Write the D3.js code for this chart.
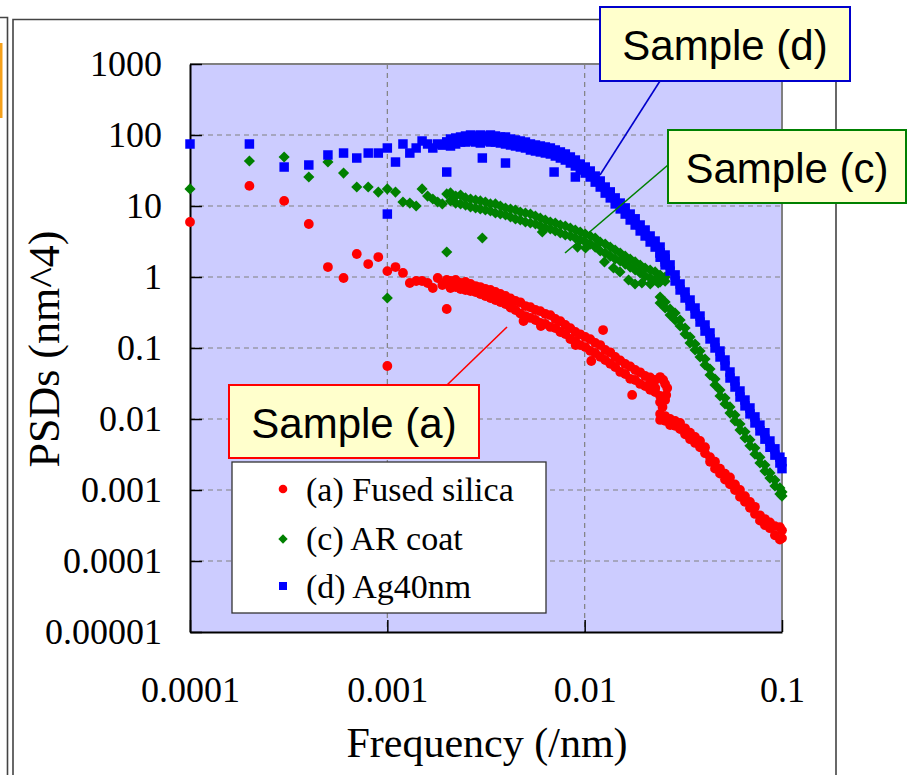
<!DOCTYPE html>
<html>
<head>
<meta charset="utf-8">
<script src="https://cdn.jsdelivr.net/npm/d3@7"></script>
<style>
  body { margin: 0; background: #fff; }
  svg { display: block; }
  .serif { font-family: "Liberation Serif", "Times New Roman", serif; }
  .sans { font-family: "Liberation Sans", Arial, sans-serif; }
</style>
</head>
<body>
<svg id="chart" width="908" height="775"></svg>
<script>
// axis ticks
const xTicks = [0.0001, 0.001, 0.01, 0.1];
const xTickLabels = ["0.0001", "0.001", "0.01", "0.1"];
const yTicks = [0.00001, 0.0001, 0.001, 0.01, 0.1, 1, 10, 100, 1000];
const yTickLabels = ["0.00001", "0.0001", "0.001", "0.01", "0.1", "1", "10", "100", "1000"];

// frequency grids (/nm)
const fLow = [0.0001, 0.0002, 0.0003, 0.0004, 0.0005, 0.0006, 0.0007, 0.0008, 0.0009, 0.0010,
  0.0011, 0.0012, 0.0013, 0.0014, 0.0015, 0.0016, 0.0017, 0.0018, 0.0019, 0.0020];
const fMid = [0.00209, 0.00222, 0.00235, 0.00249, 0.00264, 0.00280, 0.00296, 0.00314, 0.00333, 0.00353,
  0.00374, 0.00397, 0.00421, 0.00446, 0.00472, 0.00501, 0.00531, 0.00563, 0.00596, 0.00632,
  0.00670, 0.00710, 0.00753, 0.00798, 0.00846, 0.00897, 0.00950, 0.01007, 0.01067, 0.01131,
  0.01199, 0.01271, 0.01348, 0.01428, 0.01514, 0.01605, 0.01701, 0.01803, 0.01911, 0.02025,
  0.02147, 0.02276, 0.02412, 0.02557];
const fTail = [0.02412, 0.02557, 0.02710, 0.02873, 0.03045, 0.03228, 0.03421, 0.03626, 0.03843, 0.04074,
  0.04318, 0.04577, 0.04852, 0.05143, 0.05451, 0.05779, 0.06125, 0.06493, 0.06881, 0.07294,
  0.07731, 0.08195, 0.08687, 0.09207, 0.09759, 0.1];

// (a) Fused silica, PSD (nm^4)
const silicaLow = [5.95, 19.2, 11.8, 5.58, 1.38, 0.968, 2.11, 1.52, 1.91, 1.21,
  1.38, 1.14, 0.823, 0.878, 0.878, 0.823, 0.70, 0.968, 0.771, 0.907];
const silicaMid = [[0.878, 0.70], [0.907, 0.722], [0.823, 0.678], [0.85, 0.656], [0.797, 0.635],
  [0.746, 0.615], [0.722, 0.576], [0.678, 0.54], [0.656, 0.506], [0.615, 0.474],
  [0.576, 0.444], [0.54, 0.416], [0.50, 0.372], [0.459, 0.343], [0.44, 0.305],
  [0.39, 0.282], [0.375, 0.265], [0.343, 0.248], [0.33, 0.226], [0.301, 0.218],
  [0.29, 0.198], [0.256, 0.191], [0.238, 0.168], [0.211, 0.157], [0.19, 0.134],
  [0.168, 0.125], [0.156, 0.11], [0.143, 0.103], [0.133, 0.091], [0.118, 0.085],
  [0.11, 0.075], [0.0937, 0.0678], [0.087, 0.06], [0.0747, 0.054], [0.067, 0.046],
  [0.0595, 0.043], [0.055, 0.0368], [0.049, 0.0354], [0.0455, 0.0312], [0.0403, 0.0291],
  [0.0385, 0.0258], [0.0354, 0.0239], [0.039, 0.0211], [0.0311, 0.0185]];
const silicaTail = [[0.0118, 0.0097], [0.0110, 0.0094], [0.0100, 0.0082], [0.0094, 0.0080], [0.0088, 0.0072],
  [0.0074, 0.0061], [0.0064, 0.0052], [0.0056, 0.0046], [0.0049, 0.0040], [0.0040, 0.0033],
  [0.0029, 0.0025], [0.0025, 0.0020], [0.0020, 0.0017], [0.0017, 0.0014], [0.0015, 0.0012],
  [0.0012, 0.0010], [0.0010, 0.0008], [0.00082, 0.00068], [0.00068, 0.00056], [0.00058, 0.00046],
  [0.00044, 0.00037], [0.00039, 0.00032], [0.00035, 0.00029], [0.00031, 0.00023], [0.00030, 0.00020],
  [0.00027, 0.00021]];
const silicaExtra = [[0.0010, 0.0558], [0.0020, 0.354], [0.0049, 0.24], [0.0060, 0.204], [0.0090, 0.11],
  [0.0108, 0.0656], [0.0124, 0.179], [0.0174, 0.0218], [0.0250, 0.0354], [0.0262, 0.0273],
  [0.0259, 0.0218], [0.0241, 0.0173], [0.0228, 0.0273], [0.0215, 0.0321], [0.0248, 0.0148]];

// (c) AR coat
const arLow = [17.4, 43, 49.0, 25.6, 41.6, 29.1, 18.5, 18.5, 15.7, 17.4,
  15.7, 11.4, 11.0, 10.0, 17.4, 13.8, 12.55, 11.4, 10.7, 14.8];
const arMid = [[15.3, 11.8], [13.8, 11.0], [14.3, 10.7], [13.0, 10.3], [12.55, 9.68],
  [12.15, 9.37], [11.8, 9.07], [11.4, 8.78], [10.7, 8.50], [10.7, 7.97],
  [10.0, 7.72], [9.37, 7.47], [9.07, 7.0], [8.78, 6.56], [8.23, 6.35],
  [7.97, 5.95], [7.72, 5.76], [7.23, 5.58], [6.78, 5.23], [6.35, 4.90],
  [5.95, 4.74], [5.76, 4.44], [5.40, 4.16], [5.23, 3.90], [4.90, 3.78],
  [4.59, 3.54], [4.30, 3.32], [4.03, 3.11], [3.78, 2.91], [3.54, 2.64],
  [3.11, 2.32], [2.91, 2.17], [2.64, 1.97], [2.40, 1.79], [2.17, 1.68],
  [1.97, 1.52], [1.79, 1.38], [1.63, 1.255], [1.476, 1.139], [1.34, 1.03],
  [1.255, 0.968], [1.18, 0.907], [1.067, 0.85], [1.0, 0.87]];
const arTail = [[0.523, 0.430], [0.444, 0.366], [0.354, 0.292], [0.311, 0.248], [0.248, 0.204],
  [0.191, 0.157], [0.143, 0.118], [0.114, 0.0937], [0.0907, 0.0747], [0.070, 0.0576],
  [0.0506, 0.0417], [0.0366, 0.0301], [0.0256, 0.0211], [0.0197, 0.0163], [0.0148, 0.0121],
  [0.0114, 0.0094], [0.0085, 0.0070], [0.0066, 0.0054], [0.0051, 0.0042], [0.0039, 0.0032],
  [0.0029, 0.0024], [0.00225, 0.00185], [0.00174, 0.00147], [0.00138, 0.00114], [0.00107, 0.00088],
  [0.00094, 0.00082]];
const arExtra = [[0.0010, 0.506], [0.0020, 2.25], [0.00303, 3.54], [0.0061, 4.30], [0.0092, 2.64],
  [0.0101, 2.56], [0.0126, 1.63], [0.0140, 1.34], [0.0151, 1.18], [0.0167, 0.907],
  [0.0180, 0.797], [0.0195, 0.823], [0.0215, 0.797], [0.0236, 0.823]];

// (d) Ag40nm
const agLow = [74.7, 74.7, 35.4, 37.8, 52.3, 55.7, 47.4, 55.7, 55.7, 65.6,
  41.6, 74.7, 55.7, 65.6, 82.3, 74.7, 65.6, 74.7, 72.0, 80.0];
const agMid = [[87.8, 70.0], [90.7, 74.7], [93.7, 79.6], [96.8, 79.6], [100, 82.3],
  [96.8, 79.6], [100, 77.1], [96.8, 82.3], [100, 79.6], [96.8, 79.6],
  [93.7, 77.1], [93.7, 74.7], [87.8, 72.3], [85.0, 70.0], [82.3, 67.8],
  [79.6, 65.6], [74.7, 61.5], [72.3, 59.5], [70.0, 57.7], [67.8, 55.8],
  [65.6, 54.0], [61.5, 50.6], [57.7, 47.4], [54.0, 44.4], [49.0, 40.3],
  [44.4, 36.6], [39.0, 32.1], [35.4, 29.1], [31.1, 25.6], [26.4, 21.7],
  [22.5, 18.5], [18.5, 15.2], [15.8, 13.0], [13.0, 10.7], [11.0, 9.1],
  [9.4, 7.7], [7.7, 6.35], [6.6, 5.4], [5.4, 4.45], [4.59, 3.78],
  [3.78, 3.11], [3.21, 2.64], [2.64, 2.17], [2.04, 1.63]];
const agTail = [[2.2, 1.9], [1.79, 1.48], [1.48, 1.21], [1.07, 0.878], [0.797, 0.656],
  [0.615, 0.506], [0.474, 0.390], [0.366, 0.301], [0.282, 0.232], [0.211, 0.173],
  [0.163, 0.134], [0.121, 0.100], [0.0907, 0.0747], [0.0678, 0.0558], [0.0459, 0.0378],
  [0.0343, 0.0282], [0.0248, 0.0204], [0.0185, 0.0153], [0.0143, 0.0118], [0.0107, 0.0088],
  [0.0082, 0.0068], [0.0064, 0.0052], [0.0049, 0.0040], [0.0038, 0.0031], [0.0029, 0.0024],
  [0.0025, 0.0020]];
const agExtra = [[0.0010, 7.7], [0.0020, 30.1], [0.00303, 47.4], [0.00397, 40.3], [0.0070, 30.1], [0.00897, 25.6]];

const seriesNames = ["(a) Fused silica", "(c) AR coat", "(d) Ag40nm"];
const calloutLabels = ["Sample (a)", "Sample (c)", "Sample (d)"];

function collect(low, mid, tail, extra) {
  const pts = [];
  low.forEach((p, i) => pts.push([fLow[i], p]));
  mid.forEach((pr, i) => pr.forEach((p) => pts.push([fMid[i], p])));
  tail.forEach((pr, i) => pr.forEach((p) => pts.push([fTail[i], p])));
  extra.forEach((d) => pts.push(d));
  return pts;
}

const series = [
  { name: seriesNames[0], color: "#ff0000", shape: "circle", pts: collect(silicaLow, silicaMid, silicaTail, silicaExtra) },
  { name: seriesNames[1], color: "#008000", shape: "diamond", pts: collect(arLow, arMid, arTail, arExtra) },
  { name: seriesNames[2], color: "#0000ff", shape: "square", pts: collect(agLow, agMid, agTail, agExtra) }
];

const svg = d3.select("#chart");
const P = { left: 190, right: 782, top: 64, bottom: 632 };
const x = d3.scaleLog().domain([0.0001, 0.1]).range([P.left, P.right]);
const y = d3.scaleLog().domain([0.00001, 1000]).range([P.bottom, P.top]);

// slide frames behind the chart
svg.append("rect").attr("x", 0).attr("y", 43).attr("width", 2.5).attr("height", 75).attr("fill", "#f5a01a");
svg.append("path").attr("d", "M0,17.5H7.5V775").attr("fill", "none").attr("stroke", "#444").attr("stroke-width", 1.6);
svg.append("path").attr("d", "M13,775V19.5H836V775").attr("fill", "none").attr("stroke", "#444").attr("stroke-width", 1.6);

// plot area
svg.append("rect").attr("x", P.left).attr("y", P.top).attr("width", P.right - P.left).attr("height", P.bottom - P.top)
  .attr("fill", "#ccccff");

const grid = svg.append("g").attr("stroke", "#808080").attr("stroke-width", 1.2).attr("stroke-dasharray", "5 4");
grid.selectAll(".hg").data(yTicks.slice(1, -1)).join("line").attr("class", "hg")
  .attr("x1", P.left).attr("x2", P.right).attr("y1", (d) => y(d)).attr("y2", (d) => y(d));
grid.selectAll(".vg").data(xTicks.slice(1, -1)).join("line").attr("class", "vg")
  .attr("y1", P.top).attr("y2", P.bottom).attr("x1", (d) => x(d)).attr("x2", (d) => x(d));

svg.append("path").attr("d", `M${P.left},${P.top}H${P.right}V${P.bottom}`)
  .attr("fill", "none").attr("stroke", "#808080").attr("stroke-width", 2);

// axes
const ay = svg.append("g").attr("transform", `translate(${P.left},0)`)
  .call(d3.axisLeft(y).tickValues(yTicks).tickFormat((d, i) => yTickLabels[i]).tickSize(-12).tickSizeOuter(0).tickPadding(28));
const ax = svg.append("g").attr("transform", `translate(0,${P.bottom})`)
  .call(d3.axisBottom(x).tickValues(xTicks).tickFormat((d, i) => xTickLabels[i]).tickSize(-12).tickSizeOuter(0).tickPadding(44));
[ay, ax].forEach((a) => {
  a.select(".domain").attr("stroke", "#000").attr("stroke-width", 2);
  a.selectAll(".tick line").attr("stroke", "#000").attr("stroke-width", 1.5);
  a.selectAll(".tick text").attr("class", "serif").style("font-size", "36px").attr("fill", "#000");
});

// points
const sqSym = d3.symbol(d3.symbolSquare, 90)();
const dmSym = d3.symbol(d3.symbolSquare, 62)();
function drawMarks(sel, s) {
  if (s.shape === "circle") {
    sel.append("circle").attr("r", 4.9).attr("fill", s.color);
  } else {
    sel.append("path").attr("d", s.shape === "square" ? sqSym : dmSym)
      .attr("transform", s.shape === "diamond" ? "rotate(45)" : null).attr("fill", s.color);
  }
}
series.forEach((s) => {
  const g = svg.append("g");
  g.selectAll("g").data(s.pts).join("g")
    .attr("transform", (d) => `translate(${x(d[0])},${y(d[1])})`)
    .each(function () { drawMarks(d3.select(this), s); });
});

// axis titles
svg.append("text").attr("class", "serif").attr("x", 487).attr("y", 757).attr("text-anchor", "middle")
  .style("font-size", "42px").text("Frequency (/nm)");
svg.append("text").attr("class", "serif").attr("transform", "translate(59,349) rotate(-90)").attr("text-anchor", "middle")
  .style("font-size", "44px").text("PSDs (nm^4)");

// legend
const lg = svg.append("g");
lg.append("rect").attr("x", 232).attr("y", 462).attr("width", 314).attr("height", 151)
  .attr("fill", "#fff").attr("stroke", "#333").attr("stroke-width", 1.3);
const legY = [489, 539, 586];
const legBase = [501, 550, 598];
series.forEach((s, i) => {
  const m = lg.append("g").attr("transform", `translate(283,${legY[i]})`);
  if (s.shape === "circle") m.append("circle").attr("r", 4.3).attr("fill", s.color);
  else m.append("path").attr("d", d3.symbol(d3.symbolSquare, s.shape === "square" ? 64 : 44)())
    .attr("transform", s.shape === "diamond" ? "rotate(45)" : null).attr("fill", s.color);
  lg.append("text").attr("class", "serif").attr("x", 306).attr("y", legBase[i])
    .style("font-size", "34px").text(s.name);
});

// callouts
const callouts = [
  { label: calloutLabels[0], color: "#ff0000", box: [229, 385, 479, 458], line: [447, 385, 507, 327] },
  { label: calloutLabels[1], color: "#008000", box: [668, 130, 906, 203], line: [668, 165, 565, 253] },
  { label: calloutLabels[2], color: "#0000cc", box: [600, 7, 850, 81], line: [660, 81, 600, 175] }
];
callouts.forEach((c) => {
  svg.append("line").attr("x1", c.line[0]).attr("y1", c.line[1]).attr("x2", c.line[2]).attr("y2", c.line[3])
    .attr("stroke", c.color).attr("stroke-width", 1.6);
});
callouts.forEach((c) => {
  const [x0, y0, x1, y1] = c.box;
  svg.append("rect").attr("x", x0).attr("y", y0).attr("width", x1 - x0).attr("height", y1 - y0)
    .attr("fill", "#ffffcc").attr("stroke", c.color).attr("stroke-width", 2);
  svg.append("text").attr("class", "sans").attr("x", (x0 + x1) / 2).attr("y", (y0 + y1) / 2 + 16)
    .attr("text-anchor", "middle").style("font-size", "42px").attr("fill", "#000").text(c.label);
});
</script>
</body>
</html>
